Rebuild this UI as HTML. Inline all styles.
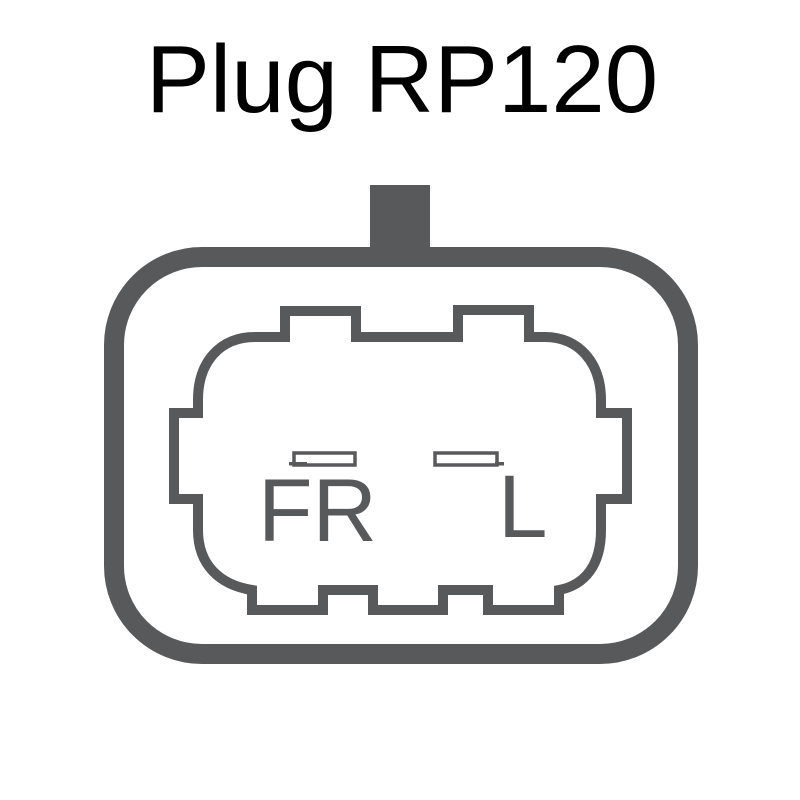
<!DOCTYPE html>
<html><head><style>
html,body{margin:0;padding:0;background:#fff;}
svg{display:block;}
</style></head><body>
<svg width="800" height="800" viewBox="0 0 800 800">
<text x="402" y="112" text-anchor="middle" font-family="Liberation Sans, sans-serif" font-size="96" fill="#000">Plug RP120</text>
<rect x="370" y="185" width="60" height="80" fill="#58595b"/>
<rect x="114" y="257" width="574" height="397" rx="88" ry="88" fill="none" stroke="#58595b" stroke-width="20"/>
<path d="M285,337 L285,311 L356,311 L356,337 L458,337 L458,310 L529,310 L529,337 L545,337 C578,337 601,362 601,400 L601,413 L627,413 L627,499 L601,499 L601,530 C601,565 585,585 559,590 L559,610 L488,610 L488,590 L443,590 L443,610 L373,610 L373,590 L323,590 L323,610 L252,610 L252,590 C220,585 198,565 198,530 L198,499 L174,499 L174,413 L198,413 L198,400 C198,362 220,337 255,337 Z" fill="none" stroke="#58595b" stroke-width="10" stroke-linejoin="miter"/>
<rect x="294" y="453" width="61" height="12" fill="none" stroke="#58595b" stroke-width="3.5"/>
<rect x="435" y="453" width="62" height="12" fill="none" stroke="#58595b" stroke-width="3.5"/>
<rect x="289" y="462" width="18" height="3.5" fill="#58595b"/>
<rect x="495" y="462" width="9" height="3.5" fill="#58595b"/>
<text x="258" y="541" font-family="Liberation Sans, sans-serif" font-size="89" fill="#58595b" textLength="119" lengthAdjust="spacingAndGlyphs">FR</text>
<text x="498" y="537" font-family="Liberation Sans, sans-serif" font-size="89" fill="#58595b">L</text>
</svg>
</body></html>
